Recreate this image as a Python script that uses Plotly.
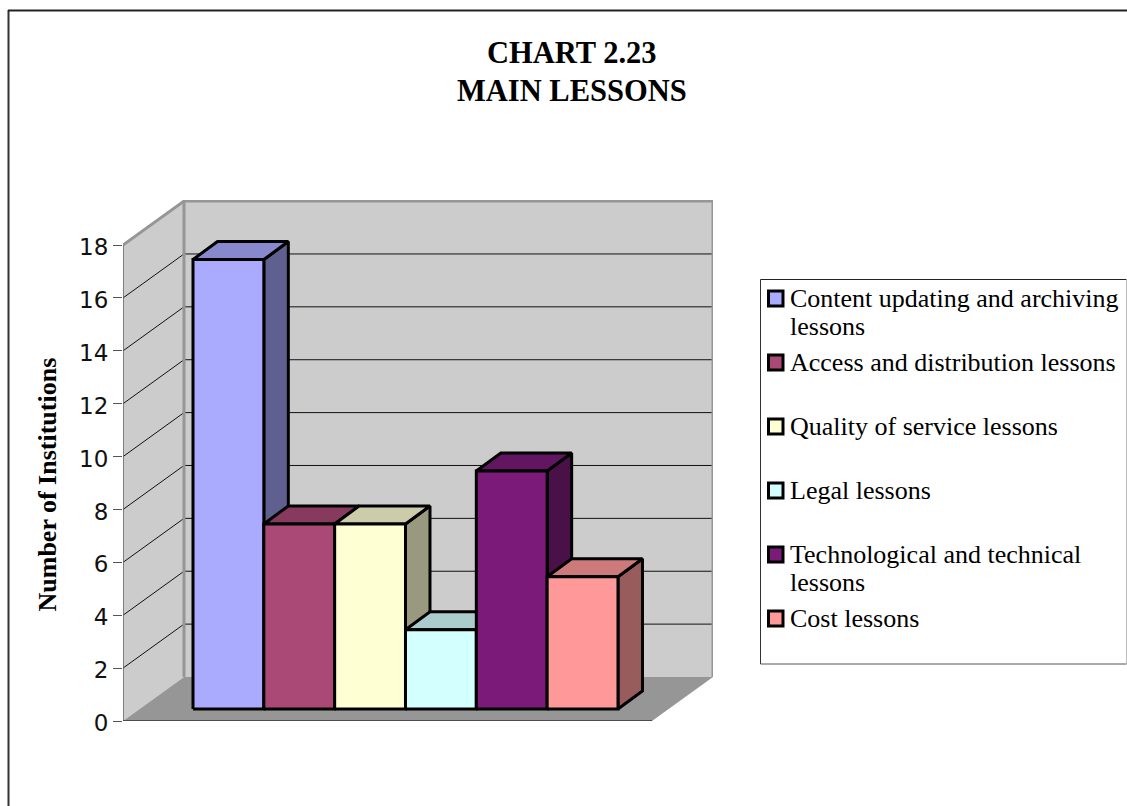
import plotly.graph_objects as go

# ---- data ----
categories = ["Content updating and archiving lessons", "Access and distribution lessons",
              "Quality of service lessons", "Legal lessons",
              "Technological and technical lessons", "Cost lessons"]
values = [17, 7, 7, 3, 9, 5]
y_ticks = list(range(0, 20, 2))
title_lines = ["CHART 2.23", "MAIN LESSONS"]
y_title = "Number of Institutions"

# ---- styles ----
front_colors = ["#AAAAFF", "#AA4876", "#FFFFD4", "#D4FFFF", "#7B1A78", "#FF9999"]
top_colors = ["#8888CC", "#883A5E", "#CCCCAA", "#AACCCC", "#621560", "#CC7A7A"]
side_colors = ["#606090", "#662B47", "#999980", "#809999", "#4A1048", "#995C5C"]
SERIF = "Liberation Serif"

# page-pixel geometry of the oblique projection
L, R, T, B = 123, 713, 200, 721
PX_X = 70.83      # px per category
PX_Y = 26.44      # px per institution
X_LEFT = (L - 193) / PX_X
X_RIGHT = (R - 193) / PX_X
Y_TOP = (B - T) / PX_Y
WALL_DX, WALL_DY = 61 / PX_X, 44 / PX_Y
BAR_DX, BAR_DY = 24.5 / PX_X, 18 / PX_Y
BASE = 12 / PX_Y
FLOOR_RIGHT = X_LEFT + (652 - L) / PX_X

fig = go.Figure()


def poly(xs, ys, fill, line=None, width=0, name=""):
    fig.add_trace(go.Scatter(
        x=xs + xs[:1], y=ys + ys[:1], mode="lines", fill="toself", fillcolor=fill,
        line=dict(color=line or fill, width=width, simplify=False),
        hoverinfo="skip" if not name else "text", text=name, cliponaxis=False,
        showlegend=False))


def seg(xs, ys, color, width):
    fig.add_trace(go.Scatter(x=xs, y=ys, mode="lines", line=dict(color=color, width=width),
                             hoverinfo="skip", cliponaxis=False, showlegend=False))


bx0, bx1 = X_LEFT + WALL_DX, X_LEFT + WALL_DX + (FLOOR_RIGHT - X_LEFT)
top = y_ticks[-1]
# walls and floor
poly([X_LEFT, bx0, bx0, X_LEFT], [0, WALL_DY, top + WALL_DY, top], "#CCCCCC")
poly([bx0, bx1, bx1, bx0], [WALL_DY, WALL_DY, top + WALL_DY, top + WALL_DY], "#CCCCCC")
poly([X_LEFT, bx0, bx1, FLOOR_RIGHT], [0, WALL_DY, WALL_DY, 0], "#969696")
# gridlines on the side and back walls
for t in y_ticks[1:-1]:
    seg([X_LEFT, bx0, bx1], [t, t + WALL_DY, t + WALL_DY], "#111111", 1)
# wall edges
seg([X_LEFT, bx0, bx1, bx1], [top, top + WALL_DY, top + WALL_DY, WALL_DY], "#969696", 3)
seg([bx0, bx0], [WALL_DY, top + WALL_DY], "#969696", 3)
seg([X_LEFT, X_LEFT], [0, top], "#666666", 1.5)
seg([X_LEFT, FLOOR_RIGHT], [0, 0], "#333333", 1.5)

# bars: side, top, then front, left to right
for i, (cat, v) in enumerate(zip(categories, values)):
    h = BASE + v
    poly([i + 1, i + 1 + BAR_DX, i + 1 + BAR_DX, i + 1], [BASE, BASE + BAR_DY, h + BAR_DY, h],
         side_colors[i], "#000000", 3)
    poly([i, i + BAR_DX, i + 1 + BAR_DX, i + 1], [h, h + BAR_DY, h + BAR_DY, h],
         top_colors[i], "#000000", 3)
    poly([i, i + 1, i + 1, i], [BASE, BASE, h, h], front_colors[i], "#000000", 3,
         name=f"{cat}: {v}")


def px(x):
    return (x - L) / (R - L)


def py(y):
    return (B - y) / (B - T)


def hv_line(x0, y0, x1, y1, color, width):
    return dict(type="line", xref="paper", yref="paper", x0=px(x0), x1=px(x1), y0=py(y0), y1=py(y1),
                line=dict(color=color, width=width))


shapes = [
    hv_line(8.5, 10, 8.5, 806, "#333333", 2),
    hv_line(8, 10.5, 1127, 10.5, "#222222", 2),
    hv_line(760.5, 279.5, 1126.5, 279.5, "#222222", 1),
    hv_line(760.5, 279.5, 760.5, 664, "#333333", 1),
    hv_line(760.5, 664, 1126.5, 664, "#555555", 1),
    hv_line(1126.5, 279.5, 1126.5, 664, "#BBBBBB", 1),
]
annotations = []


def text(s, x, y, size, bold=False, anchor="left", angle=0):
    annotations.append(dict(
        xref="paper", yref="paper", x=px(x), y=py(y), text=f"<b>{s}</b>" if bold else s,
        showarrow=False, xanchor=anchor, yanchor="middle", textangle=angle,
        font=dict(family=SERIF, size=size, color="#000000"), borderpad=0, borderwidth=0))


text(title_lines[0], 571.5, 53, 30.5, True, "center")
text(title_lines[1], 572, 90.5, 30.5, True, "center")
text(y_title, 47, 484.5, 26, True, "center", -90)

# legend: swatch centre rows and wrapped text
legend_rows = [298.5, 362.5, 426.5, 490.5, 554.5, 618.5]
legend_lines = [["Content updating and archiving", "lessons"], ["Access and distribution lessons"],
                ["Quality of service lessons"], ["Legal lessons"],
                ["Technological and technical", "lessons"], ["Cost lessons"]]
for row, lines, c in zip(legend_rows, legend_lines, front_colors):
    shapes.append(dict(type="rect", xref="paper", yref="paper", x0=px(768.5), x1=px(783),
                       y0=py(row + 7.5), y1=py(row - 7.5), fillcolor=c,
                       line=dict(color="#000000", width=3)))
    for j, s in enumerate(lines):
        text(s, 790, row + j * 28, 26)

fig.update_layout(
    width=1127, height=806, autosize=False,
    margin=dict(l=L, r=1127 - R, t=T, b=806 - B, pad=0),
    paper_bgcolor="#FFFFFF", plot_bgcolor="rgba(0,0,0,0)", showlegend=False,
    xaxis=dict(range=[X_LEFT, X_RIGHT], visible=False, fixedrange=True),
    yaxis=dict(range=[0, Y_TOP], tickmode="array", tickvals=y_ticks, ticktext=[str(t) for t in y_ticks],
               ticks="outside", ticklen=9, tickcolor="#555555", tickwidth=1, showgrid=False,
               zeroline=False, showline=False, ticklabelshift=2,
               tickfont=dict(family="DejaVu Sans", size=23, color="#111111"),
               fixedrange=True),
    shapes=shapes, annotations=annotations,
)

fig.write_html("out.html", config={"displayModeBar": False},
               post_script="document.body.style.margin='0';document.body.style.overflow='hidden';")
